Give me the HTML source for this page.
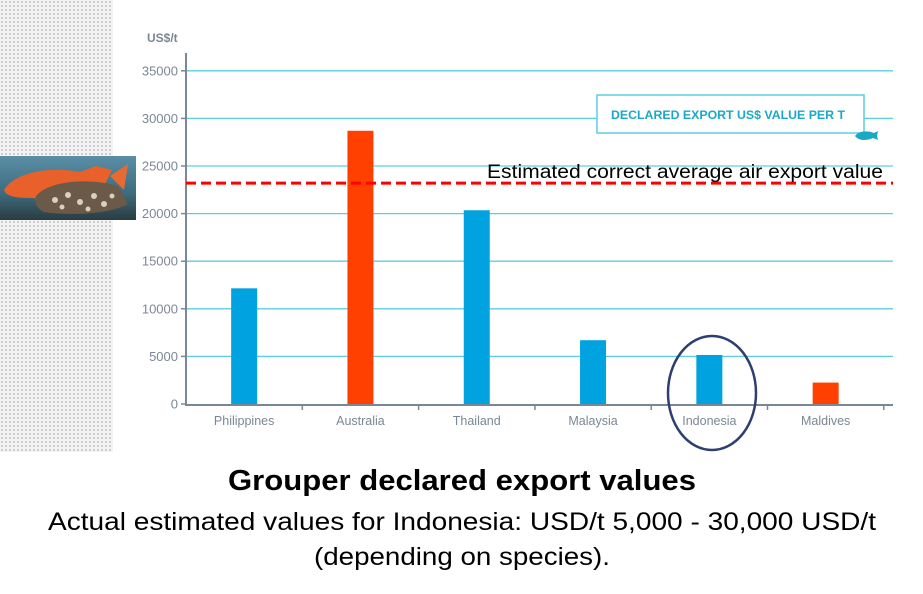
<!DOCTYPE html>
<html><head><meta charset="utf-8">
<style>
html,body{margin:0;padding:0;background:#fff;}
#wrap{position:relative;width:923px;height:594px;overflow:hidden;background:#fff;}
#pattern{position:absolute;left:0;top:0;width:113px;height:452px;background-color:#f3f3f3;background-image:radial-gradient(#c4c4c4 0.8px,transparent 1.1px);background-size:4px 4px;}
svg{position:absolute;left:0;top:0;}
</style></head>
<body>
<div id="wrap">
<div id="pattern"></div>
<svg id="chart" width="923" height="594" font-family="'Liberation Sans', sans-serif">
  <defs>
    <linearGradient id="water" x1="0" y1="0" x2="0" y2="1">
      <stop offset="0" stop-color="#5a8fa6"/><stop offset="0.6" stop-color="#3d6a7c"/><stop offset="1" stop-color="#2a3b40"/>
    </linearGradient>
  </defs>
  <g>
    <rect x="0" y="156" width="136" height="64" fill="url(#water)"/>
    <path d="M4,190 C15,172 50,166 80,172 L96,166 L112,170 L104,186 C92,194 60,200 30,198 C15,198 6,196 4,190 Z" fill="#e8602a"/>
    <path d="M110,176 L128,164 L124,190 Z" fill="#e86a30"/>
    <path d="M36,196 C50,180 90,178 118,186 L128,204 C110,214 70,216 44,212 C36,208 34,202 36,196 Z" fill="#6b5a48"/>
    <g fill="#e6dccb" opacity="0.9">
      <circle cx="55" cy="200" r="3"/><circle cx="68" cy="195" r="3"/><circle cx="80" cy="202" r="3"/><circle cx="94" cy="196" r="3"/><circle cx="104" cy="204" r="3"/><circle cx="62" cy="207" r="2.5"/><circle cx="88" cy="209" r="2.5"/><circle cx="112" cy="196" r="2.5"/>
    </g>
  </g>
  <g id="grid"></g>
  <g id="bars"></g>
  <g id="axes"></g>
  <text x="147" y="42" font-size="12" font-weight="bold" fill="#7c8795">US$/t</text>
  <g>
    <rect x="597" y="95" width="267" height="38" fill="#fff" stroke="#5ccfdf" stroke-width="1.5"/>
    <text x="611" y="119" font-size="11.5" font-weight="bold" fill="#1aa9c4" textLength="234" lengthAdjust="spacingAndGlyphs">DECLARED EXPORT US$ VALUE PER T</text>
    <path d="M855,136 C858,131 868,130 874,133 L878,131 L877,136 L878,140 L873,138 C866,141 859,141 855,136 Z" fill="#1aa9c4"/>
  </g>
  <g id="ref"></g>
  <ellipse cx="712" cy="393" rx="44" ry="57" fill="none" stroke="#2e3f70" stroke-width="2.5"/>
  <text x="462" y="490" text-anchor="middle" font-size="29" font-weight="bold" fill="#000" textLength="468" lengthAdjust="spacingAndGlyphs">Grouper declared export values</text>
  <text x="462" y="530" text-anchor="middle" font-size="25" fill="#000" textLength="828" lengthAdjust="spacingAndGlyphs">Actual estimated values for Indonesia: USD/t 5,000 - 30,000 USD/t</text>
  <text x="462" y="565" text-anchor="middle" font-size="25" fill="#000" textLength="296" lengthAdjust="spacingAndGlyphs">(depending on species).</text>
</svg>
</div>
<script>
const categories = ["Philippines","Australia","Thailand","Malaysia","Indonesia","Maldives"];
const values = [12150, 28700, 20350, 6700, 5150, 2250];
const barColors = ["#00a3e0","#ff4000","#00a3e0","#00a3e0","#00a3e0","#ff4000"];
const yTicks = [0,5000,10000,15000,20000,25000,30000,35000];
const refValue = [23200];
const refLabel = ["Estimated correct average air export value"];

const NS = "http://www.w3.org/2000/svg";
const x0 = 186, band = 116.3, barW = 26;
const yBase = 404, pxPer = 47.6/5000;
const xRight = 893;
function yScale(v){ return yBase - v*pxPer; }
function xCenter(i){ return x0 + band*i + band/2; }
function mk(tag, attrs, parent){ const e=document.createElementNS(NS,tag); for(const k in attrs) e.setAttribute(k,attrs[k]); parent.appendChild(e); return e; }

const grid = document.getElementById('grid');
const axes = document.getElementById('axes');
const bars = document.getElementById('bars');
const ref = document.getElementById('ref');

yTicks.forEach(t=>{
  const y = yScale(t);
  if(t>0){
    const g = mk('line',{x1:x0,x2:xRight,y1:y,y2:y,stroke:'#5ccfdf','stroke-width':1.3},grid);
    
    
  }
  const tk = mk('line',{x1:x0-5,x2:x0,y1:y,y2:y,stroke:'#7a8796','stroke-width':1.5},axes);
  
  
  const lb = mk('text',{x:x0-8,y:y+4.5,'text-anchor':'end','font-size':13,fill:'#7c8795'},axes);
  lb.textContent = t;
  
  
});
const ya = mk('line',{x1:x0,x2:x0,y1:53,y2:yBase+2,stroke:'#7a8796','stroke-width':2},axes);


const xa = mk('line',{x1:x0,x2:xRight,y1:yBase+1,y2:yBase+1,stroke:'#7a8796','stroke-width':2},axes);



categories.forEach((c,i)=>{
  const xt = x0 + band*(i+1);
  const tk = mk('line',{x1:xt,x2:xt,y1:yBase+1,y2:yBase+6,stroke:'#7a8796','stroke-width':1.5},axes);
  
  
  const y = yScale(values[i]);
  const r = mk('rect',{x:xCenter(i)-barW/2,y:y,width:barW,height:yBase-y,fill:barColors[i]},bars);
  
  
  const lb = mk('text',{x:xCenter(i),y:yBase+21,'text-anchor':'middle','font-size':12.5,fill:'#7c8795'},axes);
  lb.textContent = c;
  
  
});

const ry = yScale(refValue[0]);
const rl = mk('line',{x1:x0,x2:xRight,y1:ry,y2:ry,stroke:'#ff0000','stroke-width':3,'stroke-dasharray':'10 5'},ref);


const rt = mk('text',{x:487,y:ry-5,'font-size':19,fill:'#000',textLength:396,lengthAdjust:'spacingAndGlyphs'},ref);
rt.textContent = refLabel[0];


</script>
</body></html>
